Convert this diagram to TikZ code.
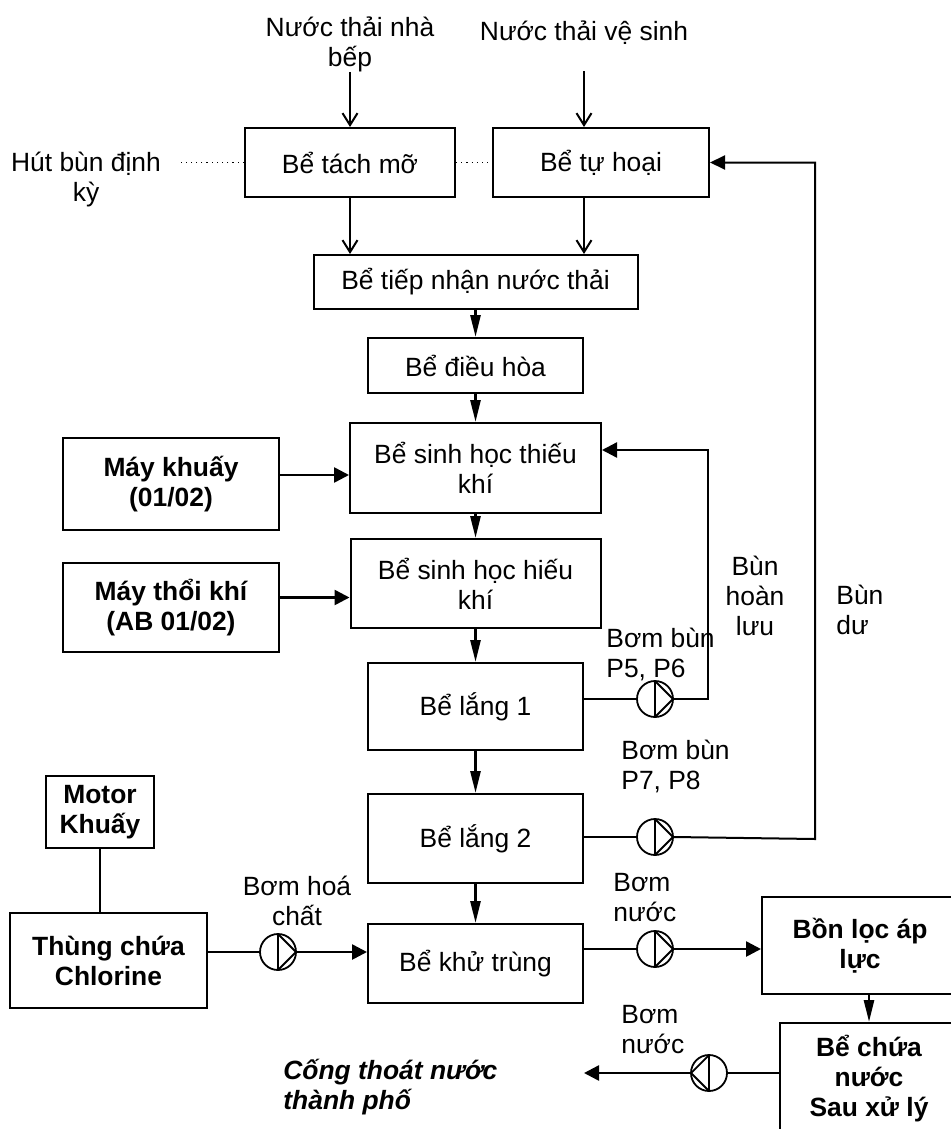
\documentclass[tikz,border=0pt]{standalone}
\usepackage{fontspec}
\setmainfont{Liberation Sans}
\usetikzlibrary{arrows.meta}
\newcommand{\diagfont}{\fontsize{13.2}{15}\selectfont}
\tikzset{
    tank/.style args={#1/#2}{
        draw, line width=1pt, align=center, inner sep=0pt,
        minimum width=#1, minimum height=#2, font=\diagfont
    },
    unit/.style args={#1/#2}{
        tank=#1/#2, font=\diagfont\bfseries
    },
    note/.style={font=\diagfont, align=center, inner sep=0pt}
}
\tikzset{
    pumpR/.style={
        draw, circle, line width=0.9pt, minimum size=18pt, inner sep=0pt,
        path picture={\draw[line width=0.9pt] (path picture bounding box.north) -- (path picture bounding box.south) -- (path picture bounding box.east) -- cycle;}
    },
    pumpL/.style={
        draw, circle, line width=0.9pt, minimum size=18pt, inner sep=0pt,
        path picture={\draw[line width=0.9pt] (path picture bounding box.north) -- (path picture bounding box.south) -- (path picture bounding box.west) -- cycle;}
    }
}
\tikzset{
    inlet/.style={line width=1pt, -{Straight Barb[length=6pt,width=7.5pt]}},
    flowV/.style={line width=1.3pt, -{Triangle[length=11pt,width=5pt]}},
    flowH/.style={line width=1.3pt, -{Triangle[length=7.5pt,width=7.5pt]}},
    pipe/.style={line width=1pt}
}

\begin{document}
\begin{tikzpicture}[x=0.5pt,y=-0.5pt]
    \clip (0,0) rectangle (951,1129);

    %inflow
    \node[note] (srcK) at (350,44) {Nước thải nhà\\bếp};
    \node[note] (srcV) at (584,33) {Nước thải vệ sinh};
    \node[note] (hutbun) at (86,180) {Hút bùn định\\kỳ};

    %main line
    \node[tank=105pt/34.5pt] (tachmo) at (350,162.5) {Bể tách mỡ};
    \node[tank=108pt/34.5pt] (tuhoai) at (601,162.5) {Bể tự hoại};
    \node[tank=162pt/27pt] (tiepnhan) at (475.5,282) {Bể tiếp nhận nước thải};
    \node[tank=107.5pt/27.5pt] (dieuhoa) at (475.5,365.5) {Bể điều hòa};
    \node[tank=125.5pt/45pt] (thieukhi) at (475.5,468) {Bể sinh học thiếu\\khí};
    \node[tank=125pt/44.5pt] (hieukhi) at (475.5,583.5) {Bể sinh học hiếu\\khí};
    \node[tank=107.5pt/43.5pt] (lang1) at (475.5,706.5) {Bể lắng 1};
    \node[tank=107.5pt/44.5pt] (lang2) at (475.5,838.5) {Bể lắng 2};
    \node[tank=107.5pt/39.5pt] (khutrung) at (475.5,963.5) {Bể khử trùng};

    %equipment
    \node[unit=108pt/46pt] (maykhuay) at (171,484) {Máy khuấy\\(01/02)};
    \node[unit=108pt/44.5pt] (maythoi) at (171,607.5) {Máy thổi khí\\(AB 01/02)};
    \node[unit=54pt/36pt] (motor) at (100,812) {Motor\\Khuấy};
    \node[unit=98.5pt/47.5pt] (thung) at (108.5,960.5) {Thùng chứa\\Chlorine};
    \node[unit=98pt/48.5pt] (bonloc) at (860,945.5) {Bồn lọc áp\\lực};
    \node[unit=89pt/56pt] (bechua) at (869,1079) {Bể chứa\\nước\\Sau xử lý};

    %pumps
    \node[pumpR] (p1) at (655,699) {};
    \node[pumpR] (p2) at (655,837) {};
    \node[pumpR] (p3) at (278,952) {};
    \node[pumpR] (p4) at (655,949) {};
    \node[pumpL] (p5) at (709,1073) {};

    \node[note, align=left, anchor=west] (lblP56) at (606,654) {Bơm bùn\\P5, P6};
    \node[note, align=left, anchor=west] (lblP78) at (621,766) {Bơm bùn\\P7, P8};
    \node[note] (lblHC) at (297,901) {Bơm hoá\\chất};
    \node[note, align=left, anchor=west] (lblN1) at (613,898) {Bơm\\nước};
    \node[note, align=left, anchor=west] (lblN2) at (621,1030) {Bơm\\nước};
    \node[note] (lblHL) at (755,596) {Bùn\\hoàn\\lưu};
    \node[note, align=left, anchor=west] (lblDu) at (836,610) {Bùn\\dư};
    \node[note, align=left, anchor=west, font=\diagfont\bfseries\itshape] (cong) at (283,1087) {Cống thoát nước\\thành phố};

    \coordinate (rcorner) at (708,450);
    \coordinate (dcorner) at (815,839);
    \coordinate (outlet) at (584,1073);

    %connections
    \draw[inlet] (srcK.south) -- (tachmo.north);
    \draw[inlet] ([yshift=-13pt]srcV.south) -- (srcV |- tuhoai.north);
    \draw[inlet] (tachmo.south) -- (tachmo.south |- tiepnhan.north);
    \draw[inlet] (srcV |- tuhoai.south) -- (srcV |- tiepnhan.north);
    \draw[dotted, line width=0.6pt] (tachmo.west) -- ++(-63,0);
    \draw[dotted, line width=0.6pt] (tachmo.east) -- (tuhoai.west);

    \draw[flowV] (tiepnhan.south) -- (dieuhoa.north);
    \draw[flowV] (dieuhoa.south) -- (thieukhi.north);
    \draw[flowV] (thieukhi.south) -- (hieukhi.north);
    \draw[flowV] (hieukhi.south) -- (lang1.north);
    \draw[flowV] (lang1.south) -- (lang2.north);
    \draw[flowV] (lang2.south) -- (khutrung.north);

    \draw[flowH] ([yshift=4.5pt]maykhuay.east) -- ([yshift=4.5pt]maykhuay.east -| thieukhi.west);
    \draw[flowH] ([yshift=5pt]maythoi.east) -- ([yshift=5pt]maythoi.east -| hieukhi.west);

    \draw[pipe] (p1.west -| lang1.east) -- (p1.west);
    \draw[flowH, line width=1.2pt] (p1.east) -| (rcorner) -- (rcorner -| thieukhi.east);
    \draw[pipe] (p2.west -| lang2.east) -- (p2.west);
    \draw[pipe, -{Triangle[length=7.5pt,width=7pt]}] (p2.east) -- (dcorner) -- (dcorner |- tuhoai.east) -- (tuhoai.east);

    \draw[pipe] (motor.south) -- (motor.south |- thung.north);
    \draw[pipe] (p3.west -| thung.east) -- (p3.west);
    \draw[flowH] (p3.east) -- (p3.east -| khutrung.west);
    \draw[pipe] (p4.west -| khutrung.east) -- (p4.west);
    \draw[flowH] (p4.east) -- (p4.east -| bonloc.west);
    \draw[flowV] (bechua.north |- bonloc.south) -- (bechua.north);
    \draw[pipe] (p5.east -| bechua.west) -- (p5.east);
    \draw[flowH] (p5.west) -- (outlet);

\end{tikzpicture}
\end{document}
